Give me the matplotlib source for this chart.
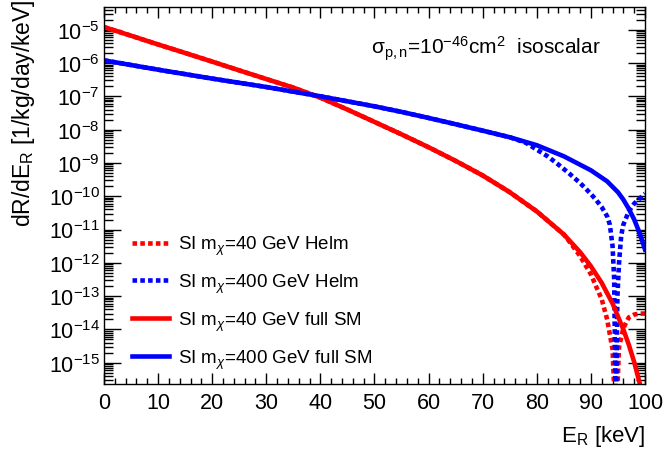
import numpy as np
import matplotlib
matplotlib.use("Agg")
import matplotlib.pyplot as plt
from matplotlib.ticker import MultipleLocator, LogLocator

plt.rcParams['font.family'] = ['Liberation Sans', 'DejaVu Sans']
plt.rcParams['mathtext.fontset'] = 'custom'
plt.rcParams['mathtext.rm'] = 'Liberation Sans'
plt.rcParams['mathtext.it'] = 'Liberation Sans:italic'
plt.rcParams['mathtext.bf'] = 'Liberation Sans:bold'

# recoil energy grid (keV) and rates (1/kg/day/keV)
e_sm40 = [0, 5, 10, 15, 20, 25, 30, 35, 40, 45, 50, 55, 60, 65, 70, 75, 80, 85,
          88, 90, 92, 94, 96, 97, 98, 99, 99.5, 100]
r_sm40 = [1.2e-5, 6.6e-6, 3.6e-6, 2.0e-6, 1.1e-6, 6.0e-7, 3.3e-7, 1.82e-7, 9.1e-8,
          4.0e-8, 1.7e-8, 7.2e-9, 2.95e-9, 1.15e-9, 4.2e-10, 1.32e-10, 3.5e-11, 7.1e-12,
          2.1e-12, 7.9e-13, 2.5e-13, 6.0e-14, 1.0e-14, 3.5e-15, 1.05e-15, 2.5e-16,
          1e-16, 1e-17]

e_helm40 = [0, 5, 10, 15, 20, 25, 30, 35, 40, 45, 50, 55, 60, 65, 70, 75, 80, 85,
            86, 88, 90, 92, 93, 94, 94.6, 95.2, 96, 97, 98, 99, 100]
r_helm40 = [1.2e-5, 6.6e-6, 3.6e-6, 2.0e-6, 1.1e-6, 6.0e-7, 3.3e-7, 1.82e-7, 9.1e-8,
            4.0e-8, 1.7e-8, 7.2e-9, 2.95e-9, 1.15e-9, 4.2e-10, 1.32e-10, 3.5e-11, 7.1e-12,
            4.4e-12, 1.6e-12, 4.5e-13, 8.0e-14, 2.0e-14, 2.5e-15, 1e-17, 3e-15,
            1.1e-14, 2.3e-14, 2.8e-14, 3.0e-14, 3.0e-14]

e_sm400 = [0, 10, 20, 30, 40, 50, 55, 60, 65, 70, 75, 80, 85, 90, 93, 95, 96, 97, 98, 99, 100]
r_sm400 = [1.2e-6, 6.3e-7, 3.4e-7, 1.9e-7, 1.0e-7, 5.0e-8, 3.4e-8, 2.24e-8, 1.45e-8,
           9.3e-9, 5.9e-9, 3.4e-9, 1.58e-9, 6.0e-10, 2.8e-10, 1.32e-10, 7.9e-11, 4.2e-11,
           2.0e-11, 7.9e-12, 2.5e-12]

e_helm400 = [0, 10, 20, 30, 40, 50, 55, 60, 65, 70, 75, 78, 80, 82, 84, 86, 88, 90, 91,
             92, 93, 93.5, 94, 94.3, 94.6, 94.9, 95.2, 95.6, 96, 97, 98, 99, 100]
r_helm400 = [1.2e-6, 6.3e-7, 3.4e-7, 1.9e-7, 1.0e-7, 5.0e-8, 3.4e-8, 2.24e-8, 1.45e-8,
             9.3e-9, 5.9e-9, 4.0e-9, 2.5e-9, 1.58e-9, 8.9e-10, 4.8e-10, 2.5e-10, 1.17e-10,
             7.6e-11, 4.7e-11, 2.5e-11, 1.4e-11, 3.2e-12, 3.2e-13, 1e-17, 1e-13,
             1e-12, 6.6e-12, 1.4e-11, 3.5e-11, 6.0e-11, 8.5e-11, 1.2e-10]

labels = [r'SI m$_\chi$=40 GeV Helm', r'SI m$_\chi$=400 GeV Helm',
          r'SI m$_\chi$=40 GeV full SM', r'SI m$_\chi$=400 GeV full SM']

fig = plt.figure(figsize=(6.64, 4.52), dpi=100)
ax = fig.add_axes([0.1566, 0.1482, 0.8148, 0.8341])

dash = (0, (1.0, 0.7))
ax.plot(e_helm40, r_helm40, color='#ff0000', lw=3.3, ls=dash, label=labels[0])
ax.plot(e_helm400, r_helm400, color='#0000ff', lw=3.3, ls=dash, label=labels[1])
ax.plot(e_sm40, r_sm40, color='#ff0000', lw=3.3, label=labels[2])
ax.plot(e_sm400, r_sm400, color='#0000ff', lw=3.3, label=labels[3])

ax.set_yscale('log')
ax.set_xlim(0, 100)
ax.set_ylim(2.3e-16, 4.8e-5)

ax.xaxis.set_major_locator(MultipleLocator(10))
ax.xaxis.set_minor_locator(MultipleLocator(2))
ax.yaxis.set_major_locator(LogLocator(base=10, numticks=20))
ax.yaxis.set_minor_locator(LogLocator(base=10, subs=np.arange(2, 10), numticks=20))

ax.tick_params(which='both', direction='in', top=True, right=True, labelsize=15.5, width=1)
ax.tick_params(axis='x', which='major', length=8, pad=6)
ax.tick_params(axis='x', which='minor', length=4.5)
ax.tick_params(axis='y', which='major', length=12, pad=3)
ax.tick_params(axis='y', which='minor', length=6.5)
for s in ax.spines.values():
    s.set_linewidth(1)

ax.set_xlabel(r'E$_\mathregular{R}$ [keV]', fontsize=16, loc='right', labelpad=7)
ax.set_ylabel(r'dR/dE$_\mathregular{R}$ [1/kg/day/keV]', fontsize=16.5, loc='top')
ax.yaxis.set_label_coords(-0.124, 1.022)

ax.text(0.4935, 0.893, r'σ$_\mathregular{p,n}$=10$^\mathregular{-46}$cm$^\mathregular{2}$  isoscalar',
        transform=ax.transAxes, fontsize=15, va='center')

ax.legend(loc='upper left', bbox_to_anchor=(0.02, 0.443), frameon=False, fontsize=13.5,
          handlelength=2.0, handletextpad=0.45, labelspacing=0.78)

fig.savefig('out.png', dpi=100)
